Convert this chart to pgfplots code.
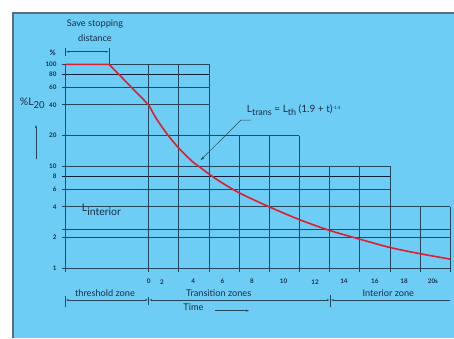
\documentclass[border=0pt]{standalone}
\usepackage{pgfplots}
\pgfplotsset{compat=1.18}
\usetikzlibrary{arrows.meta}
\usepackage{fontspec}
\setmainfont{Lato}
\definecolor{bg}{RGB}{110,205,245}
\definecolor{gridc}{RGB}{35,70,90}
\definecolor{gridk}{RGB}{15,30,60}
\definecolor{curve}{RGB}{225,30,45}
\definecolor{bord}{RGB}{90,110,122}
\definecolor{txt}{RGB}{25,45,70}
\begin{document}
\begin{tikzpicture}
\begin{scope}[x=1pt,y=1pt]
\fill[white] (0,0) rectangle (454,338);
\fill[bg] (13,0) rectangle (454,325);
\draw[bord, line width=1.5pt] (13,0) -- (13,325) -- (454,325);
\end{scope}
\begin{axis}[
  at={(65.7pt,69.7pt)}, anchor=south west,
  scale only axis, width=384.6pt, height=204pt,
  xmin=-5.5, xmax=20, ymin=1, ymax=100, ymode=log,
  clip=false, axis line style={draw=none},
  xtick={0,0.88,2.96,4.9,6.85,8.95,11.03,12.95,15,16.93,18.85},
  xticklabels={0,2,4,6,8,10,12,14,16,18,20s},
  ytick={1,2,4,6,8,10,20,40,60,80,100},
  yticklabels={1,2,4,6,8,10,20,40,60,80,100},
  tick style={draw=none},
  ticklabel style={font=\fontsize{6.3}{7}\selectfont\bfseries, text=txt},
  xticklabel style={anchor=center, yshift=-13.4pt},
  yticklabel style={anchor=east, inner sep=0pt, xshift=-9pt},
]
% horizontal grid lines
\draw[gridc, line width=0.8pt] (axis cs:-5.77,100) -- (axis cs:4,100);
\draw[gridk, line width=0.9pt] (axis cs:-5.77,80) -- (axis cs:4,80);
\draw[gridc, line width=0.8pt] (axis cs:-5.77,60) -- (axis cs:4,60);
\draw[gridc, line width=0.8pt] (axis cs:-5.77,40) -- (axis cs:4,40);
\draw[gridc, line width=0.8pt] (axis cs:-5.77,20) -- (axis cs:10,20);
\draw[gridc, line width=0.8pt] (axis cs:-5.77,10) -- (axis cs:16,10);
\draw[gridk, line width=0.9pt] (axis cs:-5.77,8) -- (axis cs:16,8);
\draw[gridc, line width=0.8pt] (axis cs:-5.77,6) -- (axis cs:16,6);
\draw[gridc, line width=0.8pt] (axis cs:-5.77,4) -- (axis cs:20,4);
\draw[gridc, line width=0.8pt] (axis cs:-5.77,2.4) -- (axis cs:20,2.4);
\draw[gridc, line width=0.8pt] (axis cs:-5.77,2) -- (axis cs:20,2);
\draw[gridc, line width=0.8pt] (axis cs:-5.77,1) -- (axis cs:20,1);
% vertical grid lines
\draw[gridc, line width=0.8pt] (axis cs:-5.5,100) -- (axis cs:-5.5,0.915);
\draw[gridc, line width=0.8pt] (axis cs:0,100) -- (axis cs:0,0.915);
\draw[gridc, line width=0.8pt] (axis cs:2,100) -- (axis cs:2,0.915);
\draw[gridc, line width=0.8pt] (axis cs:4,100) -- (axis cs:4,0.915);
\draw[gridc, line width=0.8pt] (axis cs:6,20) -- (axis cs:6,0.915);
\draw[gridc, line width=0.8pt] (axis cs:8,20) -- (axis cs:8,0.915);
\draw[gridc, line width=0.8pt] (axis cs:10,20) -- (axis cs:10,0.915);
\draw[gridc, line width=0.8pt] (axis cs:12,10) -- (axis cs:12,0.915);
\draw[gridc, line width=0.8pt] (axis cs:14,10) -- (axis cs:14,0.915);
\draw[gridc, line width=0.8pt] (axis cs:16,10) -- (axis cs:16,0.915);
\draw[gridc, line width=0.8pt] (axis cs:18,4) -- (axis cs:18,0.915);
\draw[gridc, line width=0.8pt] (axis cs:20,4) -- (axis cs:20,0.915);
% curve
\addplot[curve, line width=1.6pt, line join=round] coordinates {(-5.5,100) (-2.63,100) (0,40)};
\addplot[curve, line width=1.6pt, smooth, line join=round] coordinates {
(0,40) (0.5,29.5) (1.0,23) (1.3,20) (2.1,14.5) (3.0,10.8) (3.4,9.8) (4.2,8)
(5.0,6.7) (6.1,5.4) (8.0,4.0) (10.0,3.0) (12.0,2.35) (14.0,1.93) (16.0,1.6)
(18.0,1.39) (20,1.23)};
% leader line
\draw[gridc, line width=0.5pt, -{Stealth[length=4pt,width=2.5pt]}] (axis cs:6.78,28.4) -- (axis cs:6.12,28.4) -- (axis cs:3.45,11.5);
\end{axis}
\begin{scope}[x=1pt,y=1pt, every node/.style={text=txt}]
\node[font=\fontsize{9.2}{10}\selectfont] at (95,314) {Save stopping};
\node[font=\fontsize{9.2}{10}\selectfont] at (95,300.3) {distance};
\node[font=\fontsize{7.5}{8}\selectfont\bfseries] at (52.7,285.7) {\%};
\draw[gridc, line width=0.5pt, {Stealth[length=3pt,width=2pt]}-{Stealth[length=3pt,width=2pt]}] (66.2,286.3) -- (108.5,286.3);
\draw[gridc, line width=0.6pt] (65.7,289.5) -- (65.7,281.5);
\draw[gridc, line width=0.6pt] (109,290) -- (109,274);
\node[anchor=base west, inner sep=0pt, font=\fontsize{10.5}{12}\selectfont] at (19.7,233) {\%L\raisebox{-3.5pt}{\fontsize{9.5}{10}\selectfont 20}};
\draw[gridc, line width=0.5pt, -{Stealth[length=3pt,width=2pt]}] (36,178.7) -- (36,213);
\node[anchor=base west, inner sep=0pt, font=\fontsize{10.5}{12}\selectfont] at (81.7,126.3) {L\raisebox{-3.5pt}{interior}};
\node[anchor=base west, inner sep=0pt, font=\fontsize{10}{12}\selectfont] at (246.7,226) {L\raisebox{-3.5pt}{\fontsize{9}{10}\selectfont trans} = L\raisebox{-3.5pt}{\fontsize{9}{10}\selectfont th} (1.9 + t)\raisebox{3pt}{\fontsize{4.5}{5}\selectfont -1.4}};
\node[font=\fontsize{9.2}{10}\selectfont] at (105,44.7) {threshold zone};
\node[font=\fontsize{9.2}{10}\selectfont] at (218.7,44.7) {Transition zones};
\node[font=\fontsize{9.2}{10}\selectfont] at (388.3,44.7) {Interior zone};
\draw[gridc, line width=0.5pt, {Stealth[length=2.5pt,width=2pt]}-{Stealth[length=2.5pt,width=2pt]}] (66.2,38) -- (147.7,38);
\draw[gridc, line width=0.5pt, {Stealth[length=2.5pt,width=2pt]}-{Stealth[length=2.5pt,width=2pt]}] (149.7,38) -- (329.3,38);
\draw[gridc, line width=0.5pt, {Stealth[length=2.5pt,width=2pt]}-] (331.3,38) -- (450.3,38);
\draw[gridc, line width=0.6pt] (65.7,42) -- (65.7,31.3);
\draw[gridc, line width=0.6pt] (148.7,41) -- (148.7,33);
\draw[gridc, line width=0.6pt] (330.3,43) -- (330.3,31.3);
\node[font=\fontsize{9.2}{10}\selectfont] at (193.5,31.3) {Time};
\draw[gridc, line width=0.5pt, -{Stealth[length=3pt,width=2pt]}] (215,27.3) -- (249,27.3);
\end{scope}
\pgfresetboundingbox
\useasboundingbox (0,0) rectangle (454pt,338pt);
\end{tikzpicture}
\end{document}
